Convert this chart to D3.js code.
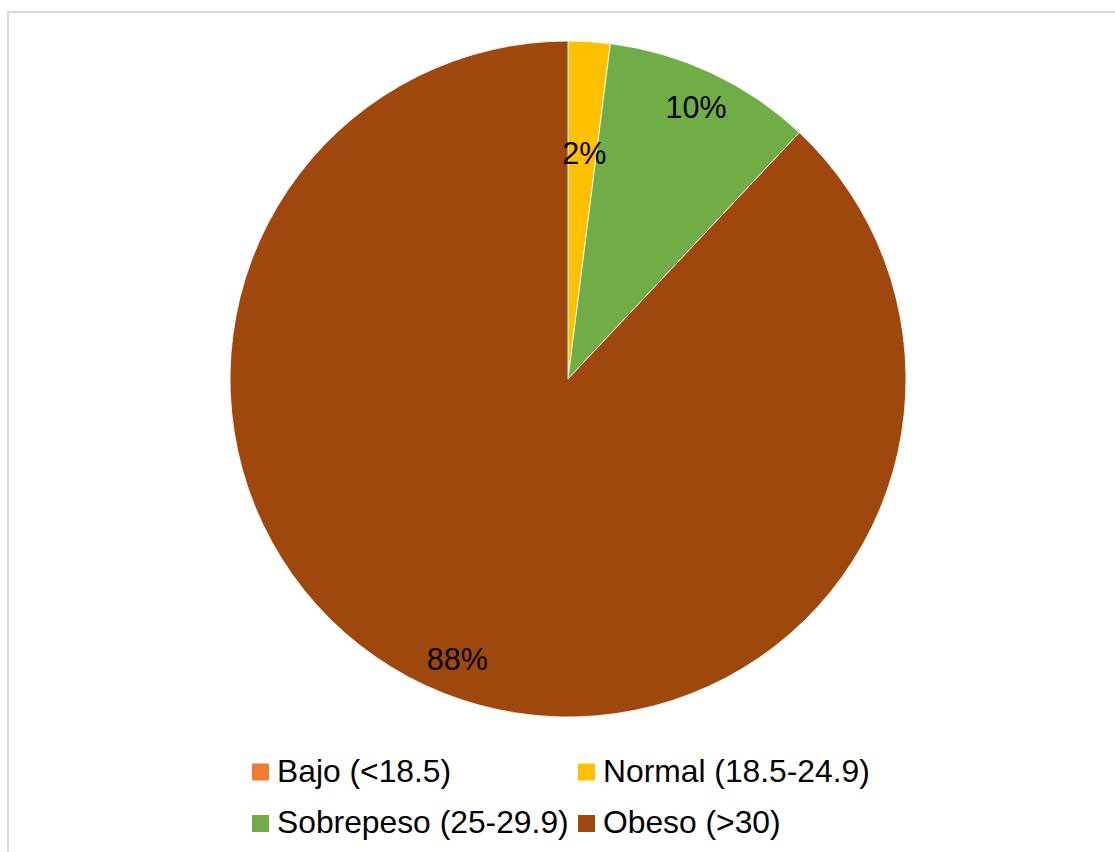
<!DOCTYPE html>
<html>
<head>
<meta charset="utf-8">
<script src="https://cdn.jsdelivr.net/npm/d3@7"></script>
<style>
  html, body { margin: 0; padding: 0; background: #fff; }
  svg { display: block; }
</style>
</head>
<body>
<svg id="chart" width="1115" height="852"></svg>
<script>
// BMI categories and their share of the sample (%)
const categories = ["Bajo (<18.5)", "Normal (18.5-24.9)", "Sobrepeso (25-29.9)", "Obeso (>30)"];
const values = [0, 2, 10, 88];
const colors = ["#ED7D31", "#FFC000", "#70AD47", "#9E480E"];

const data = categories.map((c, i) => ({ name: c, value: values[i], color: colors[i] }));

const svg = d3.select("#chart");
const W = 1115, H = 852;

// outer frame of the chart area
svg.append("rect")
  .attr("x", 8).attr("y", 12)
  .attr("width", W + 10).attr("height", H + 10)
  .attr("fill", "#fff")
  .attr("stroke", "#d9d9d9")
  .attr("stroke-width", 2);

const cx = 568, cy = 379, r = 338;

const pie = d3.pie().sort(null).value(d => d.value);
const arcs = pie(data);
const arc = d3.arc().innerRadius(0).outerRadius(r);

const g = svg.append("g").attr("transform", `translate(${cx},${cy})`);

g.selectAll("path.slice")
  .data(arcs)
  .join("path")
  .attr("class", "slice")
  .attr("d", arc)
  .attr("fill", d => d.data.color)
  .attr("stroke", "#fff")
  .attr("stroke-width", d => d.value > 0 ? 0.8 : 0);

// percentage labels: narrow slices get their label pulled further in
const fmt = v => v + "%";
g.selectAll("text.lbl")
  .data(arcs.filter(d => d.value > 0))
  .join("text")
  .attr("class", "lbl")
  .attr("transform", d => {
    const a = (d.startAngle + d.endAngle) / 2;
    const rr = d.value < 5 ? r * 0.67 : r * 0.89;
    return `translate(${rr * Math.sin(a) + (d.value < 5 ? 2 : 0)},${-rr * Math.cos(a)})`;
  })
  .attr("dy", "0.36em")
  .attr("text-anchor", "middle")
  .attr("font-family", "Liberation Sans, Arial, sans-serif")
  .attr("font-size", 30.5)
  .attr("fill", "#000")
  .text(d => fmt(d.data.value));

// legend in two columns
const legendX = [252, 578];
const legendY = [781.5, 833];
const legend = svg.append("g");
data.forEach((d, i) => {
  const col = i % 2, row = Math.floor(i / 2);
  const lg = legend.append("g").attr("transform", `translate(${legendX[col]},${legendY[row]})`);
  lg.append("rect")
    .attr("x", 0).attr("y", -18)
    .attr("width", 17).attr("height", 17)
    .attr("fill", d.color);
  lg.append("text")
    .attr("x", 25).attr("y", 0)
    .attr("font-family", "Liberation Sans, Arial, sans-serif")
    .attr("font-size", 31.8)
    .attr("fill", "#000")
    .text(d.name);
});
</script>
</body>
</html>
